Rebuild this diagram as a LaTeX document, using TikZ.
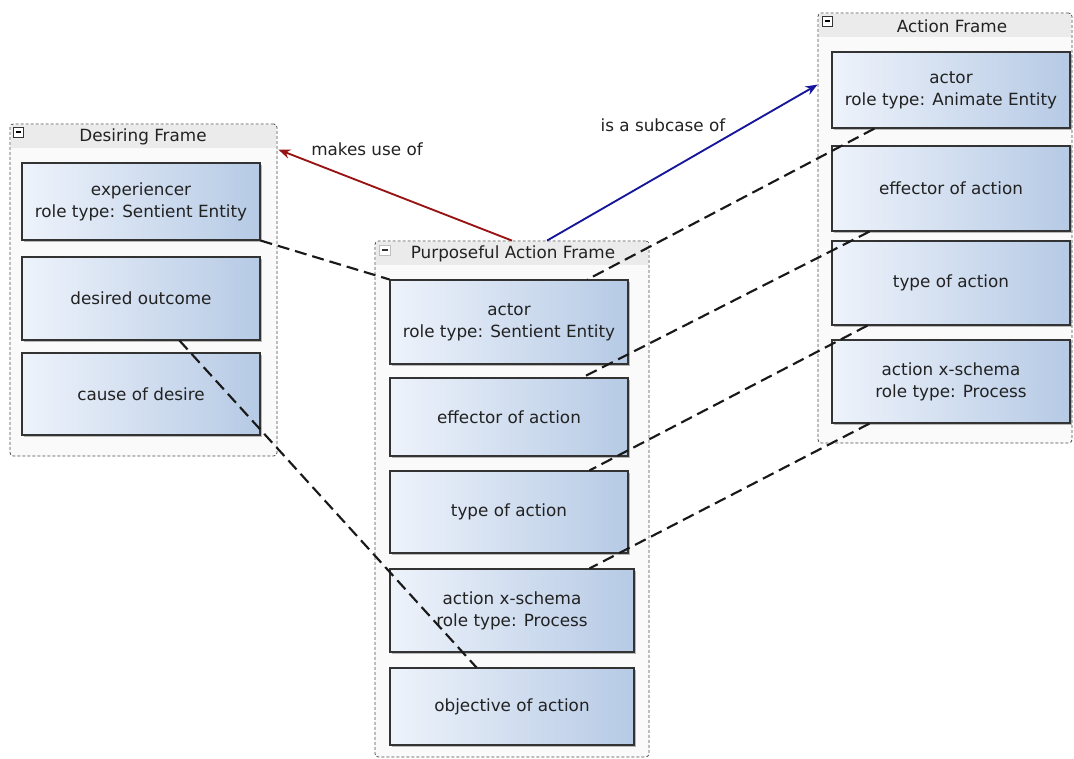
\documentclass[tikz,border=0pt]{standalone}
\usepackage{fontspec}
\setmainfont{DejaVu Sans}
\usetikzlibrary{fit,calc,shadows,arrows.meta}
\definecolor{boxL}{HTML}{EEF3FB}
\definecolor{boxR}{HTML}{B6CAE5}
\definecolor{ink}{HTML}{222222}
\definecolor{barfill}{HTML}{EBEBEB}
\definecolor{framefill}{HTML}{FAFAFA}
\definecolor{usered}{HTML}{981414}
\definecolor{subblue}{HTML}{16169A}
\begin{document}
\begin{tikzpicture}[x=0.75pt,y=-0.75pt,
  frame/.style={draw=black!70, line width=0.6pt, dash pattern=on 2.25pt off 1.5pt,
    rounded corners=2.5pt, fill=framefill, inner sep=0pt},
  titlebar/.style={fill=barfill},
  title/.style={font=\fontsize{12.6}{14}\selectfont, text=ink},
  role/.style={draw=black!80, line width=0.8pt, left color=boxL, right color=boxR,
    inner sep=0pt, align=center, font=\fontsize{12.6}{16.5}\selectfont, text=ink,
    drop shadow={shadow xshift=1.5pt, shadow yshift=-1.5pt, fill=black!45, opacity=0.6}},
  size/.style 2 args={minimum width=#1*0.75pt, minimum height=#2*0.75pt},
  collapse/.style={draw=#1, line width=0.6pt, fill=white},
  rolelink/.style={line width=1.6pt, dash pattern=on 9pt off 4.5pt, black!90},
  relation/.style={line width=1.4pt, -{Stealth[length=9pt,width=7pt]}},
  rellabel/.style={font=\fontsize{12.6}{14}\selectfont, text=ink}
]
\useasboundingbox (0,0) rectangle (1074,758);

% ---- frames ----
\node[frame, fit={(10,124)(277,456)}] (df) {};
\node[frame, fit={(375,241)(649,757)}] (paf) {};
\node[frame, fit={(818,13)(1072,443)}] (af) {};

\foreach \f in {df,paf,af}{
  \fill[titlebar] ($(\f.north west)+(1,1)$) rectangle ($(\f.north east)+(-1,24)$);
}

% collapse buttons
\draw[collapse=black!80] (13,127) rectangle (23,137);
\draw[black, line width=1pt] (15.5,132) -- (20.5,132);
\draw[collapse=black!25] (379,245) rectangle (390,255);
\draw[black!80, line width=1pt] (381.5,250) -- (387.5,250);
\draw[collapse=black!80] (822,16) rectangle (832,26);
\draw[black, line width=1pt] (824.5,21) -- (829.5,21);

\node[title] (dft) at (143,137) {Desiring Frame};
\node[title] (paft) at (513,254) {Purposeful Action Frame};
\node[title] (aft) at (952,26) {Action Frame};

% ---- Desiring Frame roles ----
\node[role, size={238}{77}] (exp) at (141,201.5) {experiencer\\role type: Sentient Entity};
\node[role, size={238}{83}] (dout) at (141,298.5) {desired outcome};
\node[role, size={238}{82}] (cause) at (141,394) {cause of desire};

% ---- Purposeful Action Frame roles ----
\node[role, size={238}{84}] (pa1) at (509,322) {actor\\role type: Sentient Entity};
\node[role, size={238}{78}] (pa2) at (509,417) {effector of action};
\node[role, size={238}{82}] (pa3) at (509,512) {type of action};
\node[role, size={244}{83}] (pa4) at (512,610.5) {action x-schema\\role type: Process};
\node[role, size={244}{77}] (pa5) at (512,706.5) {objective of action};

% ---- Action Frame roles ----
\node[role, size={238}{76}] (af1) at (951,90) {actor\\role type: Animate Entity};
\node[role, size={238}{85}] (af2) at (951,188.5) {effector of action};
\node[role, size={238}{84}] (af3) at (951,283) {type of action};
\node[role, size={238}{83}] (af4) at (951,381.5) {action x-schema\\role type: Process};

% ---- frame relations ----
\draw[relation, usered] (paf.north) -- ($(df.north east)+(1,26)$);
\draw[relation, subblue] ($(paf.north)+(35,0)$) -- ($(af.north west)+(0,72)$);
\node[rellabel] (mu) at (367,149) {makes use of};
\node[rellabel] (sc) at (663,125) {is a subcase of};

% ---- role bindings ----
\draw[rolelink] (exp.south east) -- (pa1.north west);
\draw[rolelink] ($(af1.south west)+(43,0)$) -- ($(pa1.north west)+(198,0)$);
\draw[rolelink] ($(af2.south west)+(38,0)$) -- ($(pa2.north west)+(193,0)$);
\draw[rolelink] ($(af3.south west)+(36,0)$) -- ($(pa3.north west)+(200,0)$);
\draw[rolelink] ($(af4.south west)+(38,0)$) -- ($(pa4.north west)+(200,0)$);
\draw[rolelink] ($(dout.south west)+(158,0)$) -- ($(pa5.north west)+(87,0)$);
\end{tikzpicture}
\end{document}
